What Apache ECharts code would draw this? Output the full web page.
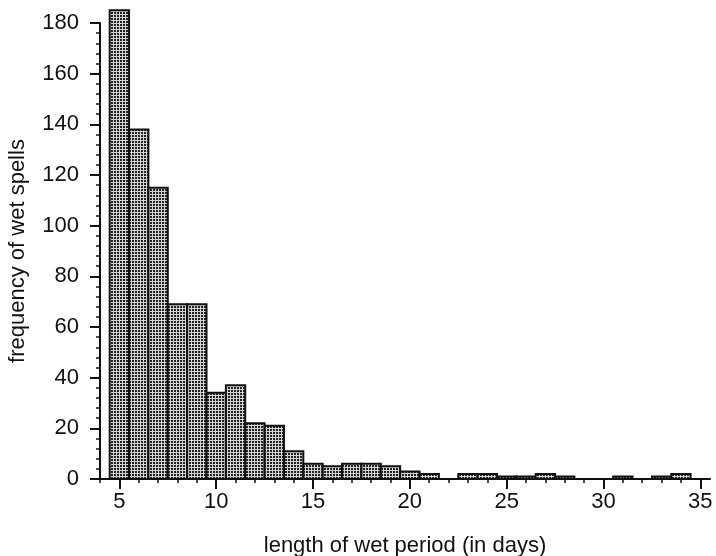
<!DOCTYPE html>
<html>
<head>
<meta charset="utf-8">
<script src="https://cdn.jsdelivr.net/npm/echarts@6/dist/echarts.min.js"></script>
<style>
  html, body { margin: 0; padding: 0; background: #fff; }
  #main { width: 716px; height: 556px; }
</style>
</head>
<body>
<div id="main"></div>
<script>
// length of wet period (days) and how many spells had that length
var days = [5, 6, 7, 8, 9, 10, 11, 12, 13, 14, 15, 16, 17, 18, 19, 20,
  21, 22, 23, 24, 25, 26, 27, 28, 29, 30, 31, 32, 33, 34];
var spells = [185, 138, 115, 69, 69, 34, 37, 22, 21, 11, 6, 5, 6, 6, 5, 3,
  2, 0, 2, 2, 1, 1, 2, 1, 0, 0, 1, 0, 1, 2];
var xMajor = [5, 10, 15, 20, 25, 30, 35];
var xMinor = [4, 5, 6, 7, 8, 9, 10, 11, 12, 13, 14, 15, 16, 17, 18, 19, 20,
  21, 22, 23, 24, 25, 26, 27, 28, 29, 30, 31, 32, 33, 34, 35];

// small hatch tile for the bar fill
function makeTile() {
  var c = document.createElement("canvas");
  c.width = 3;
  c.height = 3;
  var ctx = c.getContext("2d");
  ctx.fillStyle = "#d4d4d4";
  ctx.fillRect(0, 0, 3, 3);
  ctx.fillStyle = "#222";
  ctx.fillRect(0, 0, 2, 2);
  return c;
}
var tile = makeTile();

var font = "'Liberation Sans', Arial, Helvetica, sans-serif";
var myChart = echarts.init(document.getElementById("main"));

var option = {
  animation: false,
  grid: { left: 100, right: 6, top: 23, bottom: 77, outerBoundsMode: "none" },
  xAxis: [
    {
      type: "value",
      min: 4,
      max: 35.5,
      interval: 1,
      name: "length of wet period (in days)",
      nameLocation: "middle",
      nameGap: 56,
      nameTextStyle: { fontFamily: font, fontSize: 22, color: "#111" },
      axisLine: { lineStyle: { color: "#111", width: 2 } },
      axisTick: { inside: false, length: 4, customValues: xMinor, lineStyle: { color: "#111", width: 1.5 } },
      axisLabel: { customValues: xMajor, margin: 12, fontFamily: font, fontSize: 22, color: "#111" },
      splitLine: { show: false }
    },
    {
      // long ticks at every fifth day
      type: "value",
      position: "bottom",
      min: 4,
      max: 35.5,
      interval: 1,
      axisLine: { show: false },
      axisTick: { inside: false, length: 10, customValues: xMajor, lineStyle: { color: "#111", width: 2 } },
      axisLabel: { show: false },
      splitLine: { show: false }
    }
  ],
  yAxis: {
    type: "value",
    min: 0,
    max: 180,
    interval: 20,
    name: "frequency of wet spells",
    nameLocation: "middle",
    nameGap: 71,
    nameTextStyle: { fontFamily: font, fontSize: 22, color: "#111" },
    axisLine: { show: true, lineStyle: { color: "#111", width: 2 } },
    axisTick: { show: true, inside: false, length: 10, lineStyle: { color: "#111", width: 2 } },
    minorTick: { show: true, splitNumber: 5, length: 4, lineStyle: { color: "#111", width: 1.5 } },
    axisLabel: { margin: 21, fontFamily: font, fontSize: 22, color: "#111" },
    splitLine: { show: false }
  },
  series: [
    {
      type: "custom",
      clip: false,
      xAxisIndex: 0,
      data: days.map(function (d, i) { return [d, spells[i]]; }),
      renderItem: function (params, api) {
        var x = api.value(0);
        var v = api.value(1);
        if (!v) return;
        var p0 = api.coord([x - 0.5, v]);
        var p1 = api.coord([x + 0.5, 0]);
        return {
          type: "rect",
          shape: { x: p0[0], y: p0[1], width: p1[0] - p0[0], height: p1[1] - p0[1] },
          style: {
            fill: { image: tile, repeat: "repeat" },
            stroke: "#111",
            lineWidth: 2
          }
        };
      }
    }
  ]
};

myChart.setOption(option);
</script>
</body>
</html>
